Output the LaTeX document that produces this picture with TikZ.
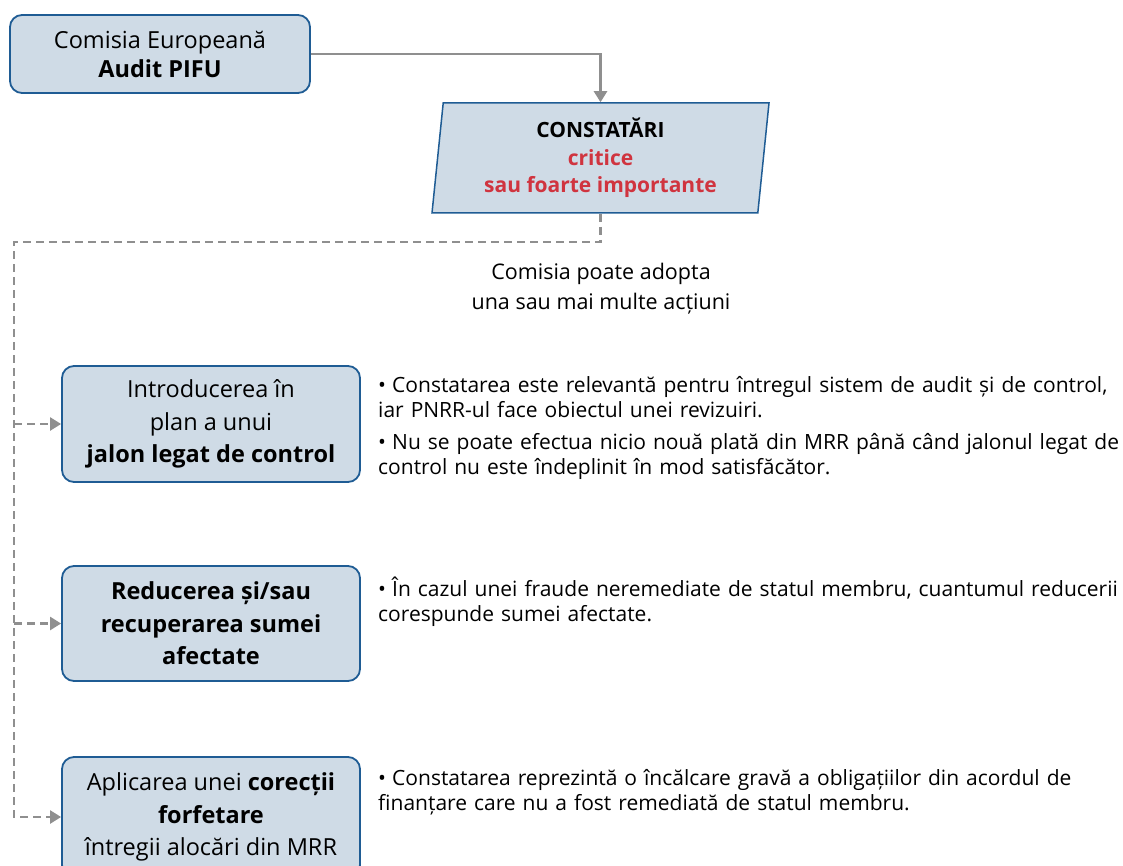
\documentclass[tikz,border=0pt]{standalone}
\usepackage{fontspec}
\setmainfont{Open Sans}
\usetikzlibrary{shapes.geometric,arrows.meta}

\definecolor{boxfill}{HTML}{CFDBE6}
\definecolor{boxline}{HTML}{1F5C94}
\definecolor{critred}{HTML}{D0343F}
\definecolor{linegray}{HTML}{8F8F8F}

% one bullet with hanging indent
\newcommand{\bitem}[1]{\par\hangindent=14pt\hangafter=1\noindent\makebox[14pt][l]{\textbullet}#1}

\begin{document}
\begin{tikzpicture}[x=1pt, y=-1pt,
	actionbox/.style={draw=boxline, line width=1.8pt, fill=boxfill, rounded corners=12pt,
		minimum width=298pt, align=center, inner sep=2pt, font=\fontsize{23.5}{32.5}\selectfont},
	findbox/.style={draw=boxline, line width=1.5pt, fill=boxfill, trapezium,
		trapezium left angle=82, trapezium right angle=98, trapezium stretches body,
		minimum width=337pt, minimum height=110pt, align=center, inner sep=0pt,
		font=\bfseries\fontsize{21}{27.5}\selectfont},
	notes/.style={anchor=north west, inner sep=0pt, text width=760pt, align=left,
		font=\fontsize{21}{25}\selectfont},
	flow/.style={draw=linegray, line width=2.4pt, -{Triangle[length=11pt, width=13pt]}},
	option/.style={draw=linegray, line width=2.4pt, dash pattern=on 8pt off 5pt,
		-{Triangle[length=11pt, width=13pt]}}]

	\useasboundingbox (0, 0) rectangle (1123, 866);

	\node[actionbox, minimum width=300pt, minimum height=78pt, font=\fontsize{23.5}{29}\selectfont] (pifu) at (160, 54)
		{Comisia Europeană\\\textbf{Audit PIFU}};

	\node[findbox] (find) at (600.5, 158)
		{CONSTATĂRI\\\textcolor{critred}{critice}\\\textcolor{critred}{sau foarte importante}};

	\node[align=center, font=\fontsize{21.5}{30}\selectfont] (adopt) at (601, 289)
		{Comisia poate adopta\\una sau mai multe acțiuni};

	% the three actions
	\node[actionbox, minimum height=116pt] (jalon) at (211, 424)
		{Introducerea în\\plan a unui\\\textbf{jalon legat de control}};
	\node[actionbox, minimum height=115pt, font=\bfseries\fontsize{23.5}{32.5}\selectfont] (reducere) at (211, 623.5)
		{Reducerea și/sau\\recuperarea sumei\\afectate};
	\node[actionbox, minimum height=120pt] (corectie) at (211, 817)
		{Aplicarea unei \textbf{corecții}\\\textbf{forfetare}\\întregii alocări din MRR};

	\node[notes] (jalonnote) at (378, 367)
		{\bitem{Constatarea este relevantă pentru întregul sistem de audit și de control,\\iar PNRR-ul face obiectul unei revizuiri.}
		\par\vspace{7pt}
		\bitem{Nu se poate efectua nicio nouă plată din MRR până când jalonul legat de\\control nu este îndeplinit în mod satisfăcător.}};
	\node[notes] (reducerenote) at (378, 571)
		{\bitem{În cazul unei fraude neremediate de statul membru, cuantumul reducerii\\corespunde sumei afectate.}};
	\node[notes] (corectienote) at (378, 760)
		{\bitem{Constatarea reprezintă o încălcare gravă a obligațiilor din acordul de\\finanțare care nu a fost remediată de statul membru.}};

	% connectors
	\coordinate (trunk) at (14, 242);
	\draw[flow] (pifu.east) -| (find.center |- find.north);
	\draw[option] (find.center |- find.south) |- (trunk) |- (corectie.west);
	\draw[option] (trunk |- jalon.west) -- (jalon.west);
	\draw[option] (trunk |- reducere.west) -- (reducere.west);

\end{tikzpicture}
\end{document}
